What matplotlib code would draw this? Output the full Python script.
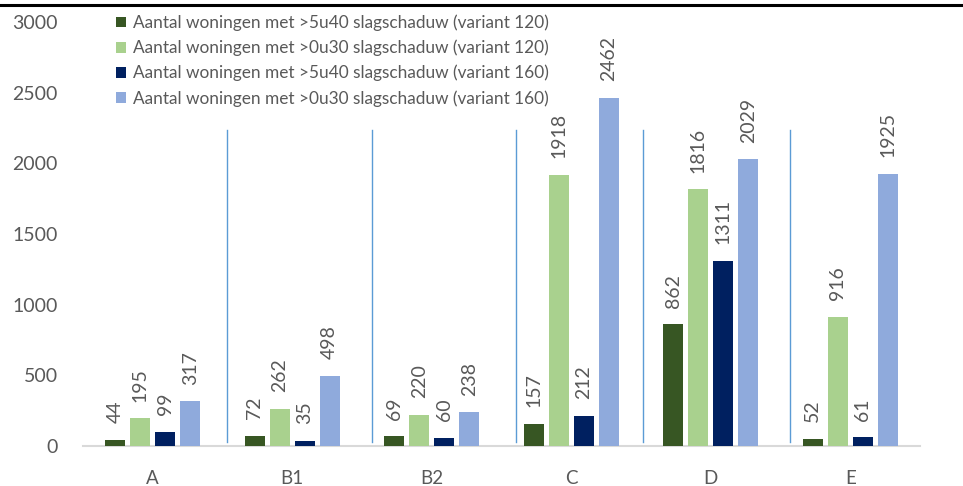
import matplotlib
matplotlib.use("Agg")
import matplotlib.pyplot as plt
import numpy as np
from matplotlib.lines import Line2D

categories = ["A", "B1", "B2", "C", "D", "E"]
series_names = [
    "Aantal woningen met >5u40 slagschaduw (variant 120)",
    "Aantal woningen met >0u30 slagschaduw (variant 120)",
    "Aantal woningen met >5u40 slagschaduw (variant 160)",
    "Aantal woningen met >0u30 slagschaduw (variant 160)",
]
v120_5u40 = [44, 72, 69, 157, 862, 52]
v120_0u30 = [195, 262, 220, 1918, 1816, 916]
v160_5u40 = [99, 35, 60, 212, 1311, 61]
v160_0u30 = [317, 498, 238, 2462, 2029, 1925]
colors = ["#375623", "#A9D18E", "#002060", "#8FAADC"]
separator_x = [0.532, 1.572, 2.604, 3.514, 4.568]
separator_top = 2236

plt.rcParams['font.family'] = ['Lato', 'DejaVu Sans']
grey = "#595959"

fig = plt.figure(figsize=(9.63, 4.86), dpi=100)
ax = fig.add_axes([83/963, 1-446/486, (920-83)/963, (446-22)/486])

x = np.arange(len(categories))
step = 25/139.5
width = 20/139.5
all_series = [v120_5u40, v120_0u30, v160_5u40, v160_0u30]
for i, (vals, c, name) in enumerate(zip(all_series, colors, series_names)):
    pos = x + (i - 1.5) * step
    bars = ax.bar(pos, vals, width=width, color=c, label=name, zorder=3)
    for b, v in zip(bars, vals):
        ax.annotate(str(v), (b.get_x() + b.get_width()/2, v), xytext=(0, 12),
                    textcoords="offset points", rotation=90, ha="center", va="bottom",
                    fontsize=14, color=grey)

for sx in separator_x:
    ax.plot([sx, sx], [25, separator_top], color="#5B9BD5", lw=1.0, zorder=2)

ax.set_xlim(-0.5, len(categories) - 0.5)
ax.set_ylim(0, 3000)
ax.set_yticks(np.arange(0, 3001, 500))
ax.set_xticks(x)
ax.set_xticklabels(categories)
ax.tick_params(axis='y', length=0, pad=18, labelsize=14, labelcolor=grey)
ax.tick_params(axis='x', length=0, pad=17, labelsize=13.5, labelcolor=grey)
for s in ["top", "right", "left"]:
    ax.spines[s].set_visible(False)
ax.spines["bottom"].set_color("#D9D9D9")
ax.spines["bottom"].set_linewidth(1.5)

leg = ax.legend(loc="upper left", bbox_to_anchor=(116/963, 1-14.5/486),
                bbox_transform=fig.transFigure, frameon=False, fontsize=12.4,
                handlelength=0.6, handleheight=0.6, handletextpad=0.36,
                labelspacing=0.5, borderpad=0, borderaxespad=0)
for t in leg.get_texts():
    t.set_color(grey)

fig.add_artist(Line2D([0, 1], [1-5/486, 1-5/486], transform=fig.transFigure,
                      color="black", lw=2.2))

fig.savefig("out.png", dpi=100, facecolor="white")
